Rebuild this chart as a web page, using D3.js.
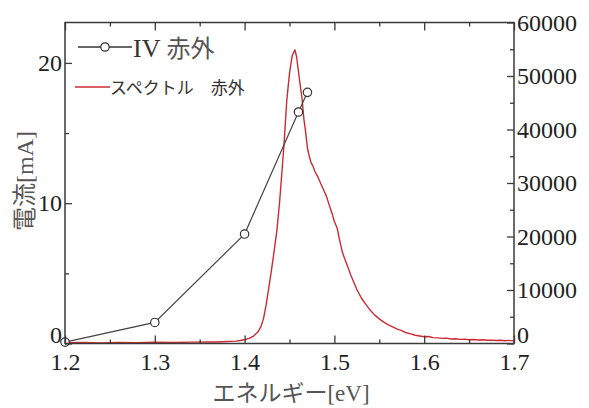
<!DOCTYPE html>
<html>
<head>
<meta charset="utf-8">
<script src="https://cdn.jsdelivr.net/npm/d3@7"></script>
<style>
  html, body { margin: 0; padding: 0; background: #fff; }
  svg { display: block; }
</style>
</head>
<body>
<svg id="chart" width="589" height="408"></svg>
<script>
// I-V measurement (current in mA) at each photon energy
const ivEnergy = [1.20, 1.30, 1.40, 1.46, 1.47];
const ivCurrent = [0.1, 1.5, 7.8, 16.5, 17.9];

// Emission spectrum (counts) against photon energy
const specEnergy = [
  1.200, 1.220, 1.240, 1.260, 1.280, 1.300, 1.320, 1.340, 1.360, 1.370,
  1.380, 1.390, 1.395, 1.400, 1.405, 1.410, 1.415, 1.418, 1.421, 1.424,
  1.427, 1.430, 1.433, 1.436, 1.439, 1.442, 1.444, 1.447, 1.450, 1.453,
  1.456, 1.458, 1.460, 1.462, 1.464, 1.466, 1.468, 1.470, 1.472, 1.474,
  1.476, 1.478, 1.480, 1.482, 1.485, 1.488, 1.491, 1.494, 1.497, 1.500,
  1.503, 1.506, 1.509, 1.512, 1.515, 1.518, 1.521, 1.525, 1.530, 1.535,
  1.540, 1.545, 1.550, 1.555, 1.560, 1.565, 1.570, 1.575, 1.580, 1.585,
  1.590, 1.595, 1.600, 1.605, 1.610, 1.615, 1.620, 1.625, 1.630, 1.635,
  1.640, 1.645, 1.650, 1.655, 1.660, 1.665, 1.670, 1.675, 1.680, 1.685,
  1.690, 1.695, 1.700
];
const specCounts = [
  150, 180, 120, 200, 160, 220, 180, 250, 300, 280,
  380, 450, 560, 700, 950, 1400, 2200, 3100, 4600, 7200,
  10500, 13800, 17400, 21200, 26500, 33000, 37500, 45500, 50500, 53800,
  54900, 53500, 50800, 48200, 45800, 42000, 39500, 36500, 35000, 33800,
  33200, 32300, 31600, 31000, 29800, 28700, 27600, 26000, 24500, 22800,
  21600, 19200, 17000, 15600, 14300, 12900, 11700, 10100, 8500, 7300,
  6200, 5300, 4600, 4000, 3500, 3100, 2700, 2400, 2000, 1800,
  1550, 1400, 1250, 1300, 1100, 1050, 950, 1000, 850, 900,
  780, 820, 700, 760, 650, 700, 600, 640, 560, 610,
  520, 580, 500
];

// Axis ticks
const xMajor = [1.2, 1.3, 1.4, 1.5, 1.6, 1.7];
const xMinor = [1.25, 1.35, 1.45, 1.55, 1.65];
const yLeftMajor = [0, 10, 20];
const yLeftMinor = [5, 15];
const yRightMajor = [0, 10000, 20000, 30000, 40000, 50000, 60000];
const yRightMinor = [5000, 15000, 25000, 35000, 45000, 55000];

const svg = d3.select("#chart");
const plot = { left: 65, right: 514, top: 22.5, bottom: 343.5 };

const x = d3.scaleLinear().domain([1.2, 1.7]).range([plot.left, plot.right]);
const yL = d3.scaleLinear().domain([0, 22.88]).range([plot.bottom, plot.top]);
const yR = d3.scaleLinear().domain([0, 60000]).range([plot.bottom, plot.top]);

const serif = "'Liberation Serif', 'Times New Roman', serif";
const cjk = "'Noto Sans CJK JP', 'Noto Sans', sans-serif";
const axisColor = "#3a3a3a";
const labelSize = "24px";

function styleAxis(g) {
  g.select(".domain").remove();
  g.selectAll("line").attr("stroke", axisColor).attr("stroke-width", 1.3);
  g.selectAll("text").attr("fill", "#222").style("font-family", serif).style("font-size", labelSize);
}

// Spectrum curve (right axis)
const specLine = d3.line()
  .x((d, i) => x(specEnergy[i]))
  .y((d, i) => yR(specCounts[i]));
svg.append("path")
  .datum(specCounts)
  .attr("d", specLine)
  .attr("fill", "none")
  .attr("stroke", "#cc2b35")
  .attr("stroke-width", 1.4)
  .attr("stroke-linejoin", "round");

// I-V curve (left axis)
const ivLine = d3.line()
  .x((d, i) => x(ivEnergy[i]))
  .y((d, i) => yL(ivCurrent[i]));
svg.append("path")
  .datum(ivCurrent)
  .attr("d", ivLine)
  .attr("fill", "none")
  .attr("stroke", "#444")
  .attr("stroke-width", 1.2);
svg.append("g").selectAll("circle")
  .data(ivCurrent)
  .join("circle")
  .attr("cx", (d, i) => x(ivEnergy[i]))
  .attr("cy", d => yL(d))
  .attr("r", 4.2)
  .attr("fill", "#fff")
  .attr("stroke", "#333")
  .attr("stroke-width", 1.2);

// Frame
svg.append("rect")
  .attr("x", plot.left).attr("y", plot.top)
  .attr("width", plot.right - plot.left).attr("height", plot.bottom - plot.top)
  .attr("fill", "none").attr("stroke", axisColor).attr("stroke-width", 1.5);

// Bottom axis (ticks pointing inward)
svg.append("g").attr("transform", `translate(0,${plot.bottom})`)
  .call(d3.axisBottom(x).tickValues(xMajor).tickSizeInner(-8).tickSizeOuter(0).tickPadding(9).tickFormat(d3.format(".1f")))
  .call(styleAxis);
svg.append("g").attr("transform", `translate(0,${plot.bottom})`)
  .call(d3.axisBottom(x).tickValues(xMinor).tickSizeInner(-4).tickSizeOuter(0).tickFormat(""))
  .call(styleAxis);

// Top axis (ticks only)
svg.append("g").attr("transform", `translate(0,${plot.top})`)
  .call(d3.axisTop(x).tickValues(xMajor).tickSizeInner(-8).tickSizeOuter(0).tickFormat(""))
  .call(styleAxis);
svg.append("g").attr("transform", `translate(0,${plot.top})`)
  .call(d3.axisTop(x).tickValues(xMinor).tickSizeInner(-4).tickSizeOuter(0).tickFormat(""))
  .call(styleAxis);

// Zero labels sit a little above the corner so they clear the energy labels
function liftZero(g) {
  g.selectAll(".tick text").filter(d => d === 0).attr("dy", "-0.04em");
}

// Left axis: current
svg.append("g").attr("transform", `translate(${plot.left},0)`)
  .call(d3.axisLeft(yL).tickValues(yLeftMajor).tickSizeInner(-7).tickSizeOuter(0).tickPadding(3))
  .call(styleAxis)
  .call(liftZero);
svg.append("g").attr("transform", `translate(${plot.left},0)`)
  .call(d3.axisLeft(yL).tickValues(yLeftMinor).tickSizeInner(-4).tickSizeOuter(0).tickFormat(""))
  .call(styleAxis);

// Right axis: spectrum counts
svg.append("g").attr("transform", `translate(${plot.right},0)`)
  .call(d3.axisRight(yR).tickValues(yRightMajor).tickSizeInner(-7).tickSizeOuter(0).tickPadding(3).tickFormat(d3.format("d")))
  .call(styleAxis)
  .call(liftZero);
svg.append("g").attr("transform", `translate(${plot.right},0)`)
  .call(d3.axisRight(yR).tickValues(yRightMinor).tickSizeInner(-4).tickSizeOuter(0).tickFormat(""))
  .call(styleAxis);

// Axis titles
const xTitle = svg.append("text")
  .attr("x", 291).attr("y", 401)
  .attr("text-anchor", "middle")
  .attr("fill", "#555")
  .style("font-size", "23px");
xTitle.append("tspan").style("font-family", cjk).text("エネルギー");
xTitle.append("tspan").style("font-family", serif).text("[eV]");

const yTitle = svg.append("text")
  .attr("transform", "translate(33,181) rotate(-90)")
  .attr("text-anchor", "middle")
  .attr("fill", "#555")
  .style("font-size", "24px");
yTitle.append("tspan").style("font-family", cjk).text("電流");
yTitle.append("tspan").style("font-family", serif).text("[mA]");

// Legend
const legend = svg.append("g");
legend.append("line")
  .attr("x1", 78).attr("x2", 132).attr("y1", 47).attr("y2", 47)
  .attr("stroke", "#333").attr("stroke-width", 1.3);
legend.append("circle")
  .attr("cx", 105).attr("cy", 47).attr("r", 4.2)
  .attr("fill", "#fff").attr("stroke", "#333").attr("stroke-width", 1.2);
const lg1 = legend.append("text").attr("x", 133).attr("y", 57).style("font-size", "26px");
lg1.append("tspan").style("font-family", serif).attr("fill", "#333").text("IV ");
lg1.append("tspan").style("font-family", cjk).attr("fill", "#555").style("font-size", "24px").text("赤外");

legend.append("line")
  .attr("x1", 75).attr("x2", 110).attr("y1", 87).attr("y2", 87)
  .attr("stroke", "#cc2b35").attr("stroke-width", 1.3);
legend.append("text")
  .attr("x", 110).attr("y", 94)
  .attr("fill", "#333")
  .style("font-family", cjk)
  .style("font-size", "17px")
  .text("スペクトル　赤外");
</script>
</body>
</html>
